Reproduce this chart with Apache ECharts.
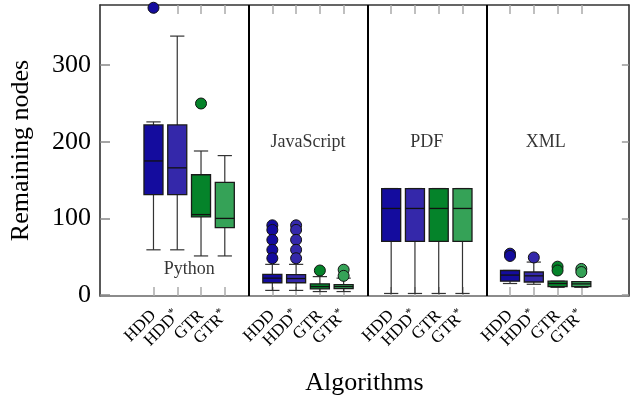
<!DOCTYPE html>
<html>
<head>
<meta charset="utf-8">
<script src="https://cdn.jsdelivr.net/npm/echarts@6/dist/echarts.min.js"></script>
<style>html,body{margin:0;padding:0;background:#fff}#c{width:631px;height:402px}</style>
</head>
<body>
<div id="c"></div>
<script>
// ---- data ----
const algorithms = ['HDD', 'HDD*', 'GTR', 'GTR*'];
const groups = ['Python', 'JavaScript', 'PDF', 'XML'];
// x positions of boxes, per algorithm, one per group
const hddPos = [1, 6, 11, 16];
const hddStarPos = [2, 7, 12, 17];
const gtrPos = [3, 8, 13, 18];
const gtrStarPos = [4, 9, 14, 19];
// [min, q1, median, q3, max] per group
const hddStats = [[59, 131, 175, 222, 226], [6, 16, 22, 27, 40], [2, 70, 113, 139, 139], [15, 18, 26, 32, 32]];
const hddStarStats = [[59, 131, 166, 222, 338], [6, 16, 21.5, 26.5, 40], [2, 70, 113, 139, 139], [14, 17, 25, 30, 43]];
const gtrStats = [[51, 102, 105, 157, 188], [4.5, 8, 11, 14.5, 24], [2, 70, 113, 139, 139], [10, 11, 15, 18, 18]];
const gtrStarStats = [[51, 88, 100, 147, 182], [4.5, 8.3, 11, 13.5, 22], [2, 70, 113, 139, 139], [10, 11, 14.5, 17.5, 17.5]];
// outliers per group
const hddOutliers = [[375], [91, 85, 72, 59, 48], [], [54, 51]];
const hddStarOutliers = [[], [91, 85, 72, 59, 48], [], [49]];
const gtrOutliers = [[250], [32], [], [37, 32]];
const gtrStarOutliers = [[], [33, 25], [], [34, 30]];
// group labels
const groupLabelX = [2.5, 7.5, 12.5, 17.5];
const groupLabelY = [33, 200, 200, 200];
const separators = [5, 10, 15];
const yTicks = [0, 100, 200, 300];
const X_MIN = -1.25, X_MAX = 21;

const colors = ['#140c9e', '#3428aa', '#05832a', '#35a257'];
const FONT = 'Liberation Serif';
const BOX_W = 0.8, CAP_W = 0.6;

const posList = [hddPos, hddStarPos, gtrPos, gtrStarPos];
const statList = [hddStats, hddStarStats, gtrStats, gtrStarStats];
const outList = [hddOutliers, hddStarOutliers, gtrOutliers, gtrStarOutliers];

const allPos = [];
const posLabel = {};
posList.forEach((arr, a) => arr.forEach(p => { allPos.push(p); posLabel[p] = algorithms[a]; }));
allPos.sort((a, b) => a - b);
// empty labels at both ends so no real label is treated as min/max label
const labelValues = [X_MIN].concat(allPos, [X_MAX]);

function renderBox(params, api) {
  const x = api.value(0);
  const pMin = api.coord([x, api.value(1)]);
  const pQ1 = api.coord([x, api.value(2)]);
  const pMed = api.coord([x, api.value(3)]);
  const pQ3 = api.coord([x, api.value(4)]);
  const pMax = api.coord([x, api.value(5)]);
  const bw = api.size([BOX_W, 0])[0];
  const cw = api.size([CAP_W, 0])[0];
  const cx = pMed[0];
  const color = api.visual('color');
  const wl = { stroke: '#333', lineWidth: 1.2 };
  return {
    type: 'group',
    children: [
      { type: 'line', shape: { x1: cx, y1: pMin[1], x2: cx, y2: pQ1[1] }, style: wl },
      { type: 'line', shape: { x1: cx, y1: pQ3[1], x2: cx, y2: pMax[1] }, style: wl },
      { type: 'line', shape: { x1: cx - cw / 2, y1: pMin[1], x2: cx + cw / 2, y2: pMin[1] }, style: wl },
      { type: 'line', shape: { x1: cx - cw / 2, y1: pMax[1], x2: cx + cw / 2, y2: pMax[1] }, style: wl },
      { type: 'rect', shape: { x: cx - bw / 2, y: pQ3[1], width: bw, height: pQ1[1] - pQ3[1] },
        style: { fill: color, stroke: '#1a1a1a', lineWidth: 1.3 } },
      { type: 'line', shape: { x1: cx - bw / 2, y1: pMed[1], x2: cx + bw / 2, y2: pMed[1] },
        style: { stroke: '#111', lineWidth: 1.3 } }
    ]
  };
}

const series = [];
algorithms.forEach((name, a) => {
  series.push({
    type: 'custom', name: name,
    renderItem: renderBox,
    itemStyle: { color: colors[a] },
    encode: { x: 0, y: [1, 2, 3, 4, 5] },
    data: statList[a].map((s, g) => [posList[a][g]].concat(s)),
    z: 3
  });
});
algorithms.forEach((name, a) => {
  const pts = [];
  outList[a].forEach((vals, g) => vals.forEach(v => pts.push([posList[a][g], v])));
  series.push({
    type: 'scatter', name: name + ' outliers',
    symbolSize: 11,
    itemStyle: { color: colors[a], borderColor: '#111', borderWidth: 1, opacity: 1 },
    data: pts, z: 4
  });
});
series.push({
  type: 'scatter', name: 'groups', symbolSize: 0, silent: true,
  label: { show: true, position: 'inside', formatter: p => p.name, fontFamily: FONT, fontSize: 18, color: '#000' },
  data: groups.map((g, i) => ({ name: g, value: [groupLabelX[i], groupLabelY[i]] })),
  markLine: {
    silent: true, symbol: 'none', label: { show: false },
    lineStyle: { color: '#000', width: 2, type: 'solid' },
    data: separators.map(s => ({ xAxis: s }))
  },
  z: 5
});

const chart = echarts.init(document.getElementById('c'), null, { renderer: 'canvas' });
chart.setOption({
  animation: false,
  grid: { left: 99, right: 0, top: 5, bottom: 106 },
  xAxis: [{
    type: 'value', min: X_MIN, max: X_MAX, position: 'bottom',
    name: 'Algorithms', nameLocation: 'middle', nameGap: 74,
    nameTextStyle: { fontFamily: FONT, fontSize: 26, color: '#000' },
    axisLine: { show: true, onZero: false, lineStyle: { color: '#666', width: 1.5 } },
    axisTick: { show: true, inside: true, length: 9, customValues: allPos, lineStyle: { color: '#aaa', width: 1.5 } },
    axisLabel: {
      show: true, customValues: labelValues, rotate: 45, margin: 17, hideOverlap: false,
      formatter: v => {
        const l = posLabel[Math.round(v)] || '';
        if (!l) return '';
        return l.endsWith('*') ? '{a|' + l.slice(0, -1) + '}{s|*}' : '{a|' + l + '}';
      },
      rich: {
        a: { fontFamily: FONT, fontSize: 17, color: '#000' },
        s: { fontFamily: FONT, fontSize: 12, color: '#000', verticalAlign: 'top', padding: [0, 0, 8, 0] }
      }
    },
    splitLine: { show: false }
  }, {
    type: 'value', min: X_MIN, max: X_MAX, position: 'top',
    axisLine: { show: true, onZero: false, lineStyle: { color: '#333', width: 1.5 } },
    axisTick: { show: true, inside: true, length: 9, customValues: allPos, lineStyle: { color: '#aaa', width: 1.5 } },
    axisLabel: { show: false },
    splitLine: { show: false }
  }],
  yAxis: [{
    type: 'value', min: -1.3, max: 378.6, position: 'left',
    name: 'Remaining nodes', nameLocation: 'middle', nameGap: 66,
    nameTextStyle: { fontFamily: FONT, fontSize: 26, color: '#000' },
    axisLine: { show: true, onZero: false, lineStyle: { color: '#222', width: 1.5 } },
    axisTick: { show: true, inside: true, length: 10, customValues: yTicks, lineStyle: { color: '#888', width: 1.5 } },
    axisLabel: { show: true, customValues: yTicks, margin: 9, fontFamily: FONT, fontSize: 26, color: '#000' },
    splitLine: { show: false }
  }, {
    type: 'value', min: -1.3, max: 378.6, position: 'right',
    axisLine: { show: true, onZero: false, lineStyle: { color: '#222', width: 1.5 } },
    axisTick: { show: true, inside: true, length: 7, customValues: yTicks, lineStyle: { color: '#999', width: 1.5 } },
    axisLabel: { show: false },
    splitLine: { show: false }
  }],
  series: series
});
</script>
</body>
</html>
